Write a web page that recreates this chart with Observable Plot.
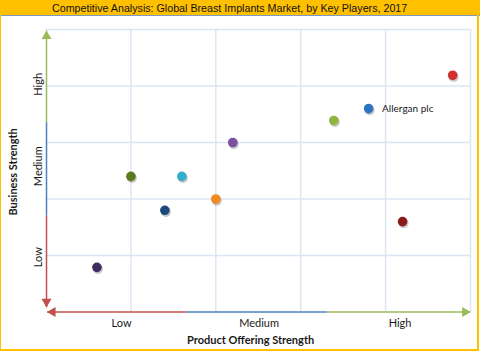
<!DOCTYPE html>
<html><head><meta charset="utf-8">
<script src="https://cdn.jsdelivr.net/npm/d3@7"></script>
<script src="https://cdn.jsdelivr.net/npm/@observablehq/plot@0.6"></script>
<style>
body{margin:0;background:#fff;}
#wrap{position:relative;width:480px;height:351px;overflow:hidden;background:#fff;}
#title{position:absolute;left:0;top:0;width:480px;height:15px;background:#FFC000;border-bottom:1px solid #7E98BF;font:10.7px "Liberation Sans",Arial,sans-serif;color:#111;line-height:16px;white-space:nowrap;}
#title span{position:absolute;left:52px;top:0;}
#chart{position:absolute;left:0;top:16px;}
#frame{position:absolute;left:0;top:0;width:479px;height:351px;box-sizing:border-box;border-left:1px solid #FFC000;border-right:2px solid #FFC000;border-bottom:2px solid #FFC000;pointer-events:none;}
</style></head><body>
<div id="wrap">
  <div id="title"><span id="titleText"></span></div>
  <div id="chart"></div>
  <div id="frame"></div>
</div>
<script>
const chartTitle = "Competitive Analysis: Global Breast Implants Market, by Key Players, 2017";
const xTitle = "Product Offering Strength";
const yTitle = "Business Strength";
const gridValues = [1, 2, 3, 4, 5];
const xTickLabels = ["Low", "Medium", "High"];
const xTickPos = [0.89, 2.51, 4.17];
const yTickLabels = ["Low", "Medium", "High"];
const yTickPos = [0.97, 2.58, 4.03];
const playerX = [0.60, 1.00, 1.40, 1.60, 2.00, 2.20, 3.39, 3.80, 4.79, 4.20];
const playerY = [0.79, 2.40, 1.80, 2.40, 2.00, 3.00, 3.39, 3.60, 4.19, 1.60];
const playerLabels = ["", "", "", "", "", "", "", "Allergan plc", "", ""];
const playerColors = ["#3E2C5E", "#5A7A22", "#1D4A7A", "#33ADC9", "#F28A22", "#7B4FA2", "#8DB63E", "#2E72C2", "#D13131", "#8B1A1A"];
// axis arrow segments (level bands) in data units
const xBandStart = [0.014, 1.65, 3.31];
const xBandEnd = [1.65, 3.31, 5.0];
const yBandStart = [0.085, 1.71, 3.36];
const yBandEnd = [1.71, 3.36, 4.98];
const bandColors = ["#C0504D", "#4F81BD", "#9BBB59"];

document.getElementById("titleText").textContent = chartTitle;

const players = playerX.map((x, i) => ({x, y: playerY[i], label: playerLabels[i], color: playerColors[i]}));
const xBands = xBandStart.map((s, i) => ({x1: s, x2: xBandEnd[i], color: bandColors[i]}));
const yBands = yBandStart.map((s, i) => ({y1: s, y2: yBandEnd[i], color: bandColors[i]}));
const font = "Lato, 'Open Sans', sans-serif";
const txt = "#1a1a1a";

const chart = Plot.plot({
  width: 480,
  height: 335,
  marginLeft: 45.5,
  marginRight: 10,
  marginTop: 13,
  marginBottom: 39.5,
  style: {fontFamily: font, background: "transparent", overflow: "visible"},
  x: {domain: [0, 5], axis: null},
  y: {domain: [0, 5], axis: null},
  marks: [
    Plot.ruleX(gridValues, {stroke: "#DCE6F2", strokeWidth: 1.5}),
    Plot.ruleY(gridValues, {stroke: "#DCE6F2", strokeWidth: 1.5}),
    // x axis arrow
    Plot.link(xBands, {x1: "x1", x2: "x2", y1: () => 0, y2: () => 0, stroke: "color", strokeWidth: 1.5}),
    Plot.dot([xBandStart[0]], {x: d => d, y: () => 0, symbol: "triangle", rotate: -90, r: 3.7, fill: bandColors[0], dx: 5.5}),
    Plot.dot([xBandEnd[2]], {x: d => d, y: () => 0, symbol: "triangle", rotate: 90, r: 3.7, fill: bandColors[2], dx: -5.5}),
    // y axis arrow
    Plot.link(yBands, {x1: () => 0.006, x2: () => 0.006, y1: "y1", y2: "y2", stroke: "color", strokeWidth: 1.5}),
    Plot.dot([yBandStart[0]], {x: () => 0.006, y: d => d, symbol: "triangle", rotate: 180, r: 3.7, fill: bandColors[0], dy: -5.5}),
    Plot.dot([yBandEnd[2]], {x: () => 0.006, y: d => d, symbol: "triangle", rotate: 0, r: 3.7, fill: bandColors[2], dy: 5.5}),
    // player bubbles with shadow
    Plot.dot(players, {x: "x", y: "y", r: 5, fill: "#000", fillOpacity: 0.22, dx: 1, dy: 1.6}),
    Plot.dot(players, {x: "x", y: "y", r: 4.8, fill: "color"}),
    Plot.text(players.filter(d => d.label), {x: "x", y: "y", text: "label", textAnchor: "start", dx: 13.5, fontSize: 10, fill: txt}),
    // tick labels
    Plot.text(xTickLabels, {x: (d, i) => xTickPos[i], frameAnchor: "bottom", dy: 11.2, lineAnchor: "middle", fontSize: 11, fill: txt}),
    Plot.text(yTickLabels, {y: (d, i) => yTickPos[i], frameAnchor: "left", dx: -7.5, rotate: -90, lineAnchor: "middle", textAnchor: "middle", fontSize: 11, fill: txt}),
    // axis titles
    Plot.text([xTitle], {x: () => 2.41, frameAnchor: "bottom", dy: 28.5, lineAnchor: "middle", fontSize: 11, fontWeight: "bold", fill: txt}),
    Plot.text([yTitle], {y: () => 2.48, frameAnchor: "left", dx: -32.5, rotate: -90, lineAnchor: "middle", textAnchor: "middle", fontSize: 11, fontWeight: "bold", fill: txt})
  ]
});
document.getElementById("chart").appendChild(chart);
</script>
</body></html>
